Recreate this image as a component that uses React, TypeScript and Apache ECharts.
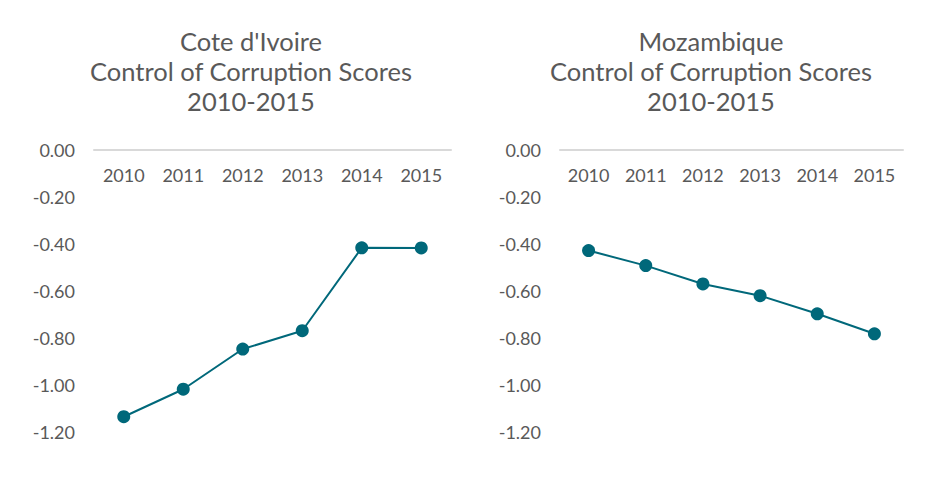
import React, { useEffect, useRef } from "react";
import * as echarts from "echarts";

const years = ["2010", "2011", "2012", "2013", "2014", "2015"];
const coteDIvoire = [-1.135, -1.018, -0.847, -0.769, -0.416, -0.417];
const mozambique = [-0.428, -0.492, -0.57, -0.62, -0.697, -0.782];
const leftTitle = "Cote d'Ivoire\nControl of Corruption Scores\n2010-2015";
const rightTitle = "Mozambique\nControl of Corruption Scores\n2010-2015";

export default function App() {
  const ref = useRef<HTMLDivElement>(null);
  useEffect(() => {
    if (!ref.current) return;
    const chart = echarts.init(ref.current, null, { renderer: "svg" });
    const font = "Lato, 'Noto Sans', sans-serif";
    const grey = "#595959";
    const lineColor = "#00687A";
    const mkX = (gi: number) => ({
      type: "category",
      gridIndex: gi,
      data: years,
      position: "top",
      boundaryGap: true,
      axisLine: { show: true, onZero: false, lineStyle: { color: "#d9d9d9", width: 2 } },
      axisTick: { show: false },
      axisLabel: { inside: true, margin: 16, color: grey, fontSize: 18, fontFamily: font },
      splitLine: { show: false },
    });
    const mkY = (gi: number) => ({
      type: "value",
      gridIndex: gi,
      min: -1.2,
      max: 0,
      interval: 0.2,
      axisLine: { show: false },
      axisTick: { show: false },
      splitLine: { show: false },
      axisLabel: {
        margin: 19,
        color: grey,
        fontSize: 18,
        fontFamily: font,
        formatter: (v: number) => (Math.abs(v) < 1e-9 ? "0.00" : v.toFixed(2)),
      },
    });
    const mkSeries = (gi: number, data: number[]) => ({
      type: "line",
      xAxisIndex: gi,
      yAxisIndex: gi,
      data,
      symbol: "circle",
      symbolSize: 13,
      lineStyle: { color: lineColor, width: 2 },
      itemStyle: { color: lineColor },
    });
    const titleStyle = { color: grey, fontSize: 25.5, fontWeight: "normal", fontFamily: font, lineHeight: 30 };
    chart.setOption({
      animation: false,
      backgroundColor: "#ffffff",
      title: [
        { text: leftTitle, left: 246, top: 21, textAlign: "center", textStyle: titleStyle },
        { text: rightTitle, left: 706, top: 21, textAlign: "center", textStyle: titleStyle },
      ],
      grid: [
        { left: 94, top: 150, width: 357, height: 282 },
        { left: 560, top: 150, width: 343, height: 282 },
      ],
      xAxis: [mkX(0), mkX(1)],
      yAxis: [mkY(0), mkY(1)],
      series: [mkSeries(0, coteDIvoire), mkSeries(1, mozambique)],
    });
    return () => chart.dispose();
  }, []);
  return <div ref={ref} style={{ width: 936, height: 487, position: "absolute", left: 0, top: 0 }} />;
}
